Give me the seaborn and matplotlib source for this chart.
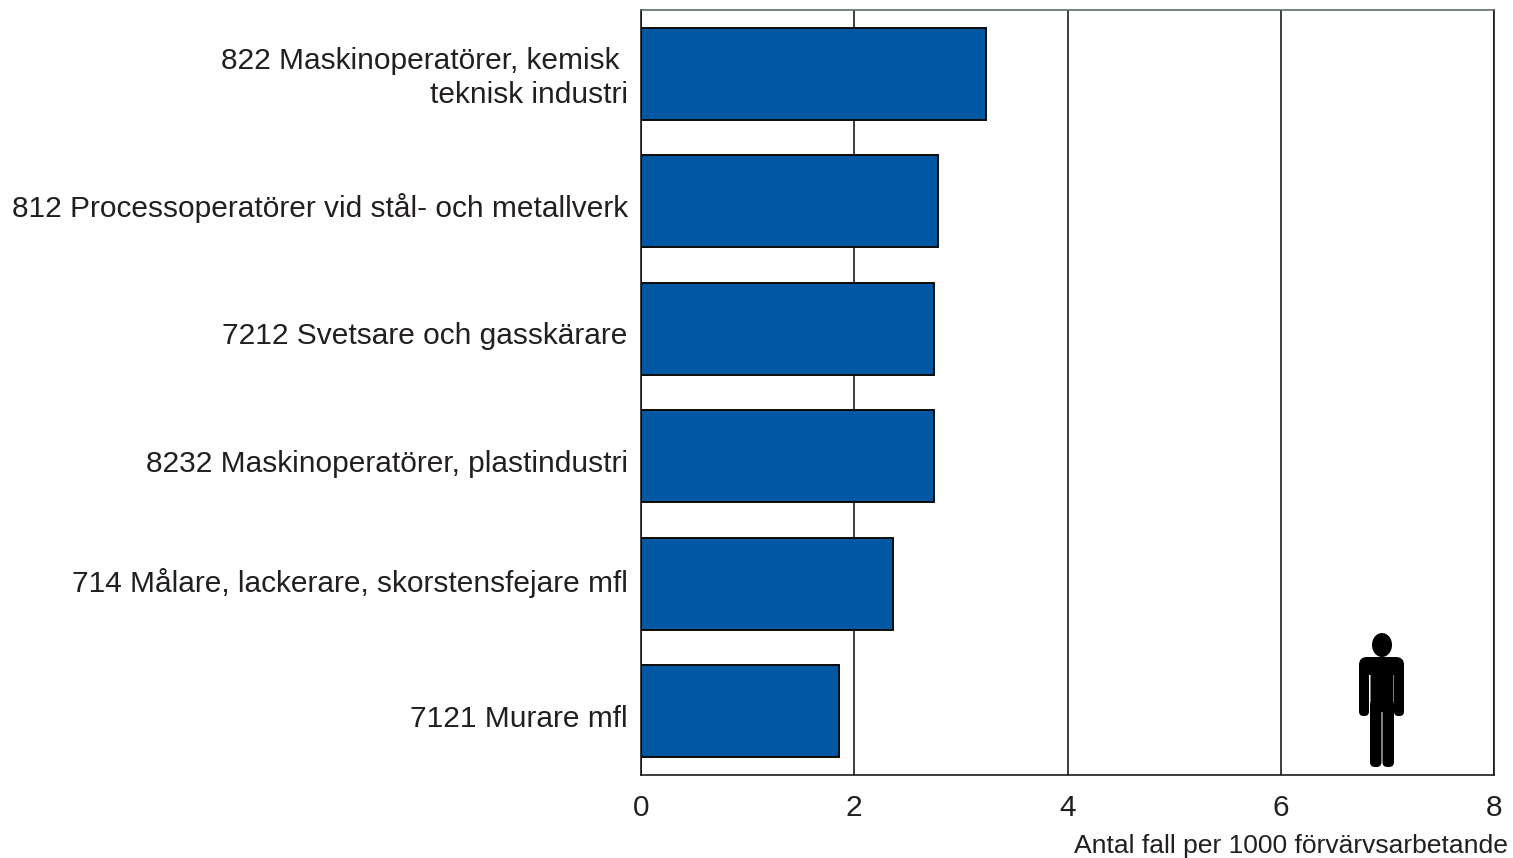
import seaborn as sns
import matplotlib.pyplot as plt
import pandas as pd
from matplotlib.patches import Ellipse, FancyBboxPatch
from matplotlib.transforms import ScaledTranslation

occupations = ["822 Maskinoperatörer, kemisk \nteknisk industri",
               "812 Processoperatörer vid stål- och metallverk",
               "7212 Svetsare och gasskärare",
               "8232 Maskinoperatörer, plastindustri",
               "714 Målare, lackerare, skorstensfejare mfl",
               "7121 Murare mfl"]
cases = [3.24, 2.79, 2.75, 2.75, 2.36, 1.86]
x_ticks = [0, 2, 4, 6, 8]

W, H = 1513, 858
TEXT = "#231f20"
sns.set_style("white")
plt.rcParams['font.family'] = ['Liberation Sans', 'DejaVu Sans']

fig = plt.figure(figsize=(W / 100, H / 100), dpi=100)
ax = fig.add_axes([641 / W, 1 - 775 / H, (1494 - 641) / W, (775 - 10) / H])

df = pd.DataFrame({"occupation": occupations, "cases": cases})
sns.barplot(data=df, x="cases", y="occupation", color="#0058a3", saturation=1,
            width=0.722, edgecolor="#0a0a0a", linewidth=1.4, ax=ax, zorder=3)

ax.set_xlim(0, 8)
ax.set_ylim(5.5, -0.5)
ax.set_xticks(x_ticks)
ax.grid(axis="x", color="#111111", linewidth=1.15, zorder=0)
ax.set_axisbelow(True)
for s in ax.spines.values():
    s.set_visible(True)
    s.set_color("#111111")
    s.set_linewidth(1.15)
ax.spines["top"].set_color("#5a6468")
ax.set_xlabel("")
ax.set_ylabel("")
ax.tick_params(axis="x", labelsize=21.5, pad=14, length=0, colors=TEXT)
ax.tick_params(axis="y", labelsize=21.5, pad=9.5, length=0, colors=TEXT)

# labels do not sit quite centred on the bars in the original
label_shift_px = [2, -4, -4, -4.5, 4, -5]
for t, dy in zip(ax.get_yticklabels(), label_shift_px):
    t.set_multialignment("right")
    t.set_linespacing(1.28)
    t.set_transform(t.get_transform() + ScaledTranslation(0, dy / 100, fig.dpi_scale_trans))

fig.text(1508 / W, 1 - 846 / H, "Antal fall per 1000 förvärvsarbetande",
         fontsize=19.05, ha="right", va="center", color=TEXT)

# little person icon, in pixel coordinates
px = fig.add_axes([0, 0, 1, 1], facecolor="none")
px.set_xlim(0, W)
px.set_ylim(H, 0)
px.axis("off")
px.add_patch(Ellipse((1382, 645), 20, 24, color="black", lw=0))
boxes = [(1359, 657, 45, 18, 8),   # shoulders
         (1359, 662, 10, 54, 4.5),  # arms
         (1394, 662, 10, 54, 4.5),
         (1370.5, 660, 23, 52, 1),   # body
         (1370, 700, 11.5, 67, 5),  # legs
         (1382.5, 700, 11.5, 67, 5)]
for x, y, w, h, r in boxes:
    px.add_patch(FancyBboxPatch((x, y), w, h, boxstyle=f"round,pad=0,rounding_size={r}",
                                color="black", lw=0))

fig.savefig("out.png", dpi=100)
